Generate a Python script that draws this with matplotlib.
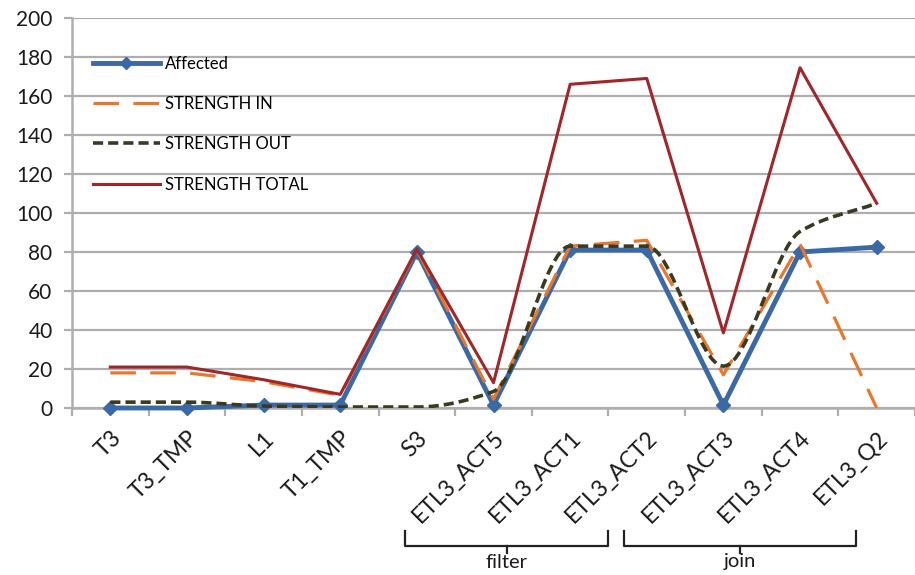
import matplotlib
matplotlib.use("Agg")
import matplotlib.pyplot as plt
from matplotlib.path import Path
from matplotlib.patches import PathPatch
from matplotlib.lines import Line2D
import matplotlib.transforms as mtransforms

plt.rcParams['font.family'] = ['Lato', 'DejaVu Sans']

categories = ['T3', 'T3_TMP', 'L1', 'T1_TMP', 'S3', 'ETL3_ACT5',
              'ETL3_ACT1', 'ETL3_ACT2', 'ETL3_ACT3', 'ETL3_ACT4', 'ETL3_Q2']
affected = [0, 0, 1.5, 1.5, 80, 1.5, 81, 81, 1.5, 80, 82.5]
strength_in = [18, 18, 13.5, 6.5, 81, 4.5, 83, 86, 17, 84, 0]
strength_out = [3, 3, 1, 0.5, 0.5, 8.5, 83, 83, 21.5, 90.5, 105]
strength_total = [21, 21, 14.5, 7, 81.5, 13, 166, 169, 38.5, 174.5, 105]
y_ticks = [0, 20, 40, 60, 80, 100, 120, 140, 160, 180, 200]

group_names = ['filter', 'join']
group_first = ['ETL3_ACT5', 'ETL3_ACT3']
group_last = ['ETL3_ACT2', 'ETL3_Q2']

C_AFF = '#3A69A6'
C_IN = '#E8772C'
C_OUT = '#3B3A1F'
C_TOT = '#A02629'
GRID = '#AEAEAE'

W, H = 915, 575
fig = plt.figure(figsize=(W / 100, H / 100), dpi=100)
ax = fig.add_axes([72 / W, 1 - 408 / H, (W - 72) / W, 390 / H])

x = list(range(len(categories)))


def smooth_path(xs, ys):
    """Monotone cubic (Fritsch-Carlson) curve through the points as a Bezier path."""
    n = len(xs)
    d = [(ys[i + 1] - ys[i]) / (xs[i + 1] - xs[i]) for i in range(n - 1)]
    m = [d[0]] + [0.0] * (n - 2) + [d[-1]]
    for i in range(1, n - 1):
        if d[i - 1] * d[i] > 0:
            m[i] = 2 * d[i - 1] * d[i] / (d[i - 1] + d[i])
    verts = [(xs[0], ys[0])]
    codes = [Path.MOVETO]
    for i in range(n - 1):
        h = (xs[i + 1] - xs[i]) / 3
        verts += [(xs[i] + h, ys[i] + m[i] * h),
                  (xs[i + 1] - h, ys[i + 1] - m[i + 1] * h),
                  (xs[i + 1], ys[i + 1])]
        codes += [Path.CURVE4] * 3
    return Path(verts, codes)


in_dash = (0, (8, 4.5))
out_dash = (0, (2.8, 1.4))

ax.plot(x, affected, color=C_AFF, lw=3.5, marker='D', ms=7.5,
        solid_joinstyle='miter', clip_on=False, zorder=3)
ax.plot(x, strength_in, color=C_IN, lw=2.3, linestyle=in_dash, zorder=4)
ax.add_patch(PathPatch(smooth_path(x, strength_out), fill=False,
                       edgecolor=C_OUT, lw=2.6, linestyle=out_dash, zorder=5))
ax.plot(x, strength_total, color=C_TOT, lw=2.2, zorder=6)

ax.set_xlim(-0.5, (W - 72) / 77 - 0.5)
ax.set_ylim(0, 200)
ax.set_yticks(y_ticks)
ax.yaxis.grid(True, color=GRID, lw=1.6)
ax.set_axisbelow(True)

for s in ('top', 'right'):
    ax.spines[s].set_visible(False)
for s in ('left', 'bottom'):
    ax.spines[s].set_color(GRID)
    ax.spines[s].set_linewidth(1.8)

ax.set_xticks(x)
ax.set_xticklabels(categories, rotation=45, ha='right', va='top',
                   rotation_mode='anchor', fontsize=16.5, color='#1a1a1a')
ax.set_xticks([i - 0.5 for i in range(len(categories) + 1)], minor=True)
ax.tick_params(axis='x', which='major', length=0, pad=14)
ax.tick_params(axis='x', which='minor', length=6, width=1.6, color=GRID,
               direction='out')
ax.tick_params(axis='y', length=6, width=1.6, color=GRID, direction='out',
               labelsize=15, labelcolor='#1a1a1a', pad=8)

handles = [
    Line2D([], [], color=C_AFF, lw=3.5, marker='D', ms=6),
    Line2D([], [], color=C_IN, lw=2.3, linestyle=in_dash),
    Line2D([], [], color=C_OUT, lw=2.6, linestyle=out_dash),
    Line2D([], [], color=C_TOT, lw=2.2),
]
labels = ['Affected', 'STRENGTH IN', 'STRENGTH OUT', 'STRENGTH TOTAL']
fig.legend(handles, labels, loc='upper left',
           bbox_to_anchor=(93 / W, 1 - 56 / H), frameon=False, fontsize=12,
           handlelength=4.0, handletextpad=0.32, labelspacing=1.45,
           borderpad=0, numpoints=1, borderaxespad=0)

# Bracket annotations grouping the ETL steps
trans = mtransforms.blended_transform_factory(ax.transData, fig.transFigure)
top_y = 1 - 531 / H
bar_y = 1 - 546 / H
stem_y = 1 - 553 / H
for name, first, last, lpad, rpad in zip(group_names, group_first, group_last,
                                         [1.15, 1.3], [0.5, 0.27]):
    x0 = categories.index(first) - lpad
    x1 = categories.index(last) - rpad
    xm = (x0 + x1) / 2
    ax.plot([x0, x0, x1, x1], [top_y, bar_y, bar_y, top_y], color='#222222',
            lw=1.6, transform=trans, clip_on=False, solid_joinstyle='round')
    ax.plot([xm, xm], [bar_y, stem_y], color='#222222', lw=1.6,
            transform=trans, clip_on=False)
    ax.text(xm, 1 - 562 / H, name, transform=trans, ha='center', va='center',
            fontsize=14.5, color='#1a1a1a')

fig.savefig('out.png', dpi=100)
